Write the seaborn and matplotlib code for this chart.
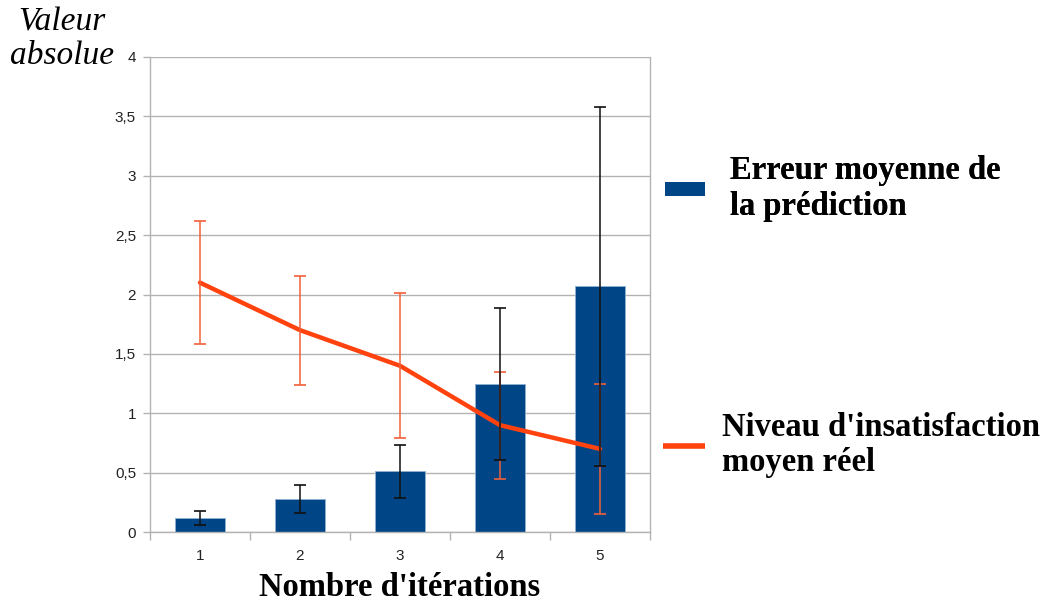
import numpy as np
import pandas as pd
import seaborn as sns
import matplotlib.pyplot as plt
from matplotlib.lines import Line2D
from matplotlib.ticker import FuncFormatter

sns.set_theme(style="white")
plt.rcParams['font.family'] = ['Liberation Sans', 'DejaVu Sans']

# Data
iterations = ['1', '2', '3', '4', '5']
erreur_pred = [0.12, 0.28, 0.51, 1.25, 2.07]
erreur_pred_err = [0.06, 0.12, 0.22, 0.64, 1.51]
insatisfaction = [2.10, 1.70, 1.40, 0.90, 0.70]
insatisfaction_err = [0.52, 0.46, 0.61, 0.45, 0.55]

blue = '#004586'
orange = '#ff420e'

df = pd.DataFrame({'iteration': iterations, 'erreur': erreur_pred,
                   'insat': insatisfaction})

fig = plt.figure(figsize=(10.45, 6.03), dpi=100)
ax = fig.add_axes([0.1435, 0.1177, 0.4785, 0.7878])

sns.barplot(data=df, x='iteration', y='erreur', color=blue, width=0.5,
            errorbar=None, saturation=1, edgecolor='#8fb0d0', linewidth=0.6,
            ax=ax, zorder=2)
xpos = np.arange(len(iterations))
ax.errorbar(xpos, erreur_pred, yerr=erreur_pred_err, fmt='none',
            ecolor='#111111', elinewidth=1.1, capsize=4, capthick=1.2, zorder=4)

sns.lineplot(x=xpos, y=insatisfaction, color=orange, linewidth=3.2, ax=ax,
             zorder=3)
ax.errorbar(xpos, insatisfaction, yerr=insatisfaction_err, fmt='none',
            ecolor='#f0603a', elinewidth=1.1, capsize=4, capthick=1.2, zorder=3)

ax.set_ylim(0, 4)
ax.set_xlim(-0.5, 4.5)
ax.set_yticks(np.arange(0, 4.01, 0.5))
ax.yaxis.set_major_formatter(FuncFormatter(
    lambda v, p: ('%g' % v).replace('.', ',')))
ax.set_xticks(np.arange(-0.5, 4.6, 1), minor=False)
ax.set_xticklabels([])
ax.set_xticks(xpos, minor=True)
ax.set_xticklabels(iterations, minor=True)
ax.tick_params(axis='x', which='major', length=6, width=1, color='#b3b3b3',
               direction='out', bottom=True)
ax.tick_params(axis='x', which='minor', length=0, labelsize=11, pad=12,
               colors='#222222')
ax.tick_params(axis='y', length=5, width=1, color='#b3b3b3', direction='out',
               left=True, labelsize=11, labelcolor='#222222', pad=5)

ax.grid(axis='y', color='#b3b3b3', linewidth=1, zorder=0)
ax.set_axisbelow(True)
for side in ['left', 'right', 'bottom']:
    ax.spines[side].set_color('#b3b3b3')
    ax.spines[side].set_linewidth(1)
ax.spines['top'].set_visible(False)

ax.set_xlabel("Nombre d'itérations", family='Liberation Serif',
              fontweight='bold', fontsize=23.5, labelpad=7, color='black')
ax.set_ylabel('')
fig.text(0.059, 0.988, 'Valeur\nabsolue', family='Liberation Serif',
         style='italic', fontsize=24, ha='center', va='top', linespacing=1.12,
         color='black')

# Legend, two separate entries
h1 = Line2D([], [], color=blue, linewidth=10, solid_capstyle='butt')
h2 = Line2D([], [], color=orange, linewidth=4, solid_capstyle='butt')
leg_font = {'family': 'Liberation Serif', 'weight': 'bold', 'size': 23.5}
leg1 = fig.legend([h1], ['Erreur moyenne de\nla prédiction'],
                  loc='center left', bbox_to_anchor=(0.636, 0.688),
                  frameon=False, prop=leg_font, handlelength=1.23,
                  handletextpad=0.77, borderpad=0, borderaxespad=0,
                  labelcolor='black')
leg2 = fig.legend([h2], ["Niveau d'insatisfaction\nmoyen réel"],
                  loc='center left', bbox_to_anchor=(0.634, 0.262),
                  frameon=False, prop=leg_font, handlelength=1.29,
                  handletextpad=0.52, borderpad=0, borderaxespad=0,
                  labelcolor='black')
fig.add_artist(leg1)

fig.savefig('out.png', dpi=100)
